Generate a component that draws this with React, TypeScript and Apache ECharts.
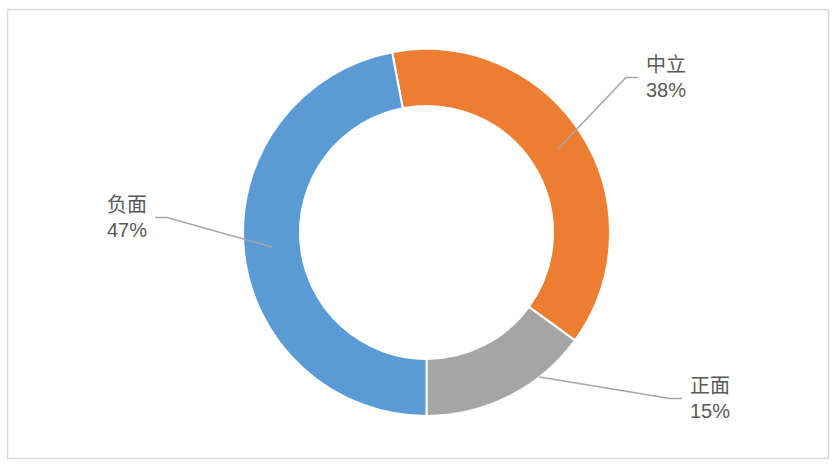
import React, { useEffect, useRef } from "react";
import * as echarts from "echarts";

// ---- data ----
const categories = ["中立", "正面", "负面"];
const values = [38, 15, 47];
const colors = ["#ED7D31", "#A5A5A5", "#5B9BD5"];

// ---- layout / style ----
const W = 836;
const H = 466;
const CX = 426.5;
const CY = 232.5;
const R_IN = 126.5;
const R_OUT = 183.5;
// label centre positions (px) and which side the leader enters from
const labelPos = [
  { x: 666, y: 77.5, side: "left" },
  { x: 710, y: 398.5, side: "left" },
  { x: 127, y: 217.5, side: "right" },
];
// leader anchor inside the ring: radius and angular offset from slice middle
const leaderAnchor = [
  { r: (R_IN + R_OUT) / 2, da: 0 },
  { r: R_OUT, da: -11 },
  { r: (R_IN + R_OUT) / 2, da: 0 },
];

export default function App() {
  const ref = useRef<HTMLDivElement>(null);

  useEffect(() => {
    document.body.style.margin = "0";
    if (!ref.current) return;
    const chart = echarts.init(ref.current, undefined, { renderer: "svg" });

    const total = values.reduce((a, b) => a + b, 0);
    const lastIdx = values.length - 1;
    // last slice ends exactly at the bottom (clockwise), so first starts after it
    const startAngle = (((-90 - (values[lastIdx] / total) * 360) % 360) + 360) % 360;

    // mid angle (clockwise from top, degrees) for each slice
    const midAngles: number[] = [];
    let acc = 90 - startAngle;
    values.forEach((v) => {
      const span = (v / total) * 360;
      midAngles.push(acc + span / 2);
      acc += span;
    });

    const font = '"Liberation Sans", "Noto Sans CJK SC", sans-serif';

    const base = {
      type: "pie",
      center: [CX, CY],
      radius: [R_IN, R_OUT],
      startAngle,
      clockwise: true,
      avoidLabelOverlap: false,
      emphasis: { disabled: true },
    };

    chart.setOption({
      animation: false,
      backgroundColor: "#ffffff",
      graphic: [
        {
          type: "rect",
          shape: { x: 7.5, y: 9.5, width: 821, height: 449 },
          style: { fill: "none", stroke: "#d9d9d9", lineWidth: 1.5 },
          silent: true,
          z: 0,
        },
      ],
      series: [
        {
          ...base,
          z: 2,
          itemStyle: { borderColor: "#ffffff", borderWidth: 2 },
          label: { show: false },
          labelLine: { show: false },
          data: categories.map((name, i) => ({
            name,
            value: values[i],
            itemStyle: { color: colors[i] },
          })),
        },
        {
          ...base,
          z: 5,
          silent: true,
          itemStyle: { color: "rgba(0,0,0,0)", borderWidth: 0 },
          label: {
            show: true,
            formatter: (p: any) =>
              `{n|${p.name}}\n{p|${Math.round(p.percent)}%}`,
            rich: {
              n: { fontSize: 20, fontFamily: font, color: "#595959", lineHeight: 25, align: "center" },
              p: { fontSize: 20, fontFamily: font, color: "#595959", lineHeight: 25, align: "center" },
            },
          },
          labelLine: {
            show: true,
            lineStyle: { color: "#A6A6A6", width: 1.5 },
          },
          labelLayout: (params: any) => {
            const i = params.dataIndex;
            const pos = labelPos[i];
            const anc = leaderAnchor[i];
            const th = ((midAngles[i] + anc.da) * Math.PI) / 180;
            const sx = CX + anc.r * Math.sin(th);
            const sy = CY - anc.r * Math.cos(th);
            const halfW = (params.labelRect?.width ?? 42) / 2;
            const dir = pos.side === "left" ? -1 : 1;
            const endX = pos.x + dir * (halfW + 8);
            const elbowX = endX + dir * 12;
            return {
              x: pos.x,
              y: pos.y,
              align: "center",
              verticalAlign: "middle",
              labelLinePoints: [
                [sx, sy],
                [elbowX, pos.y],
                [endX, pos.y],
              ],
            };
          },
          data: categories.map((name, i) => ({ name, value: values[i] })),
        },
      ],
    });

    return () => {
      chart.dispose();
    };
  }, []);

  return <div ref={ref} style={{ width: W, height: H }} />;
}
